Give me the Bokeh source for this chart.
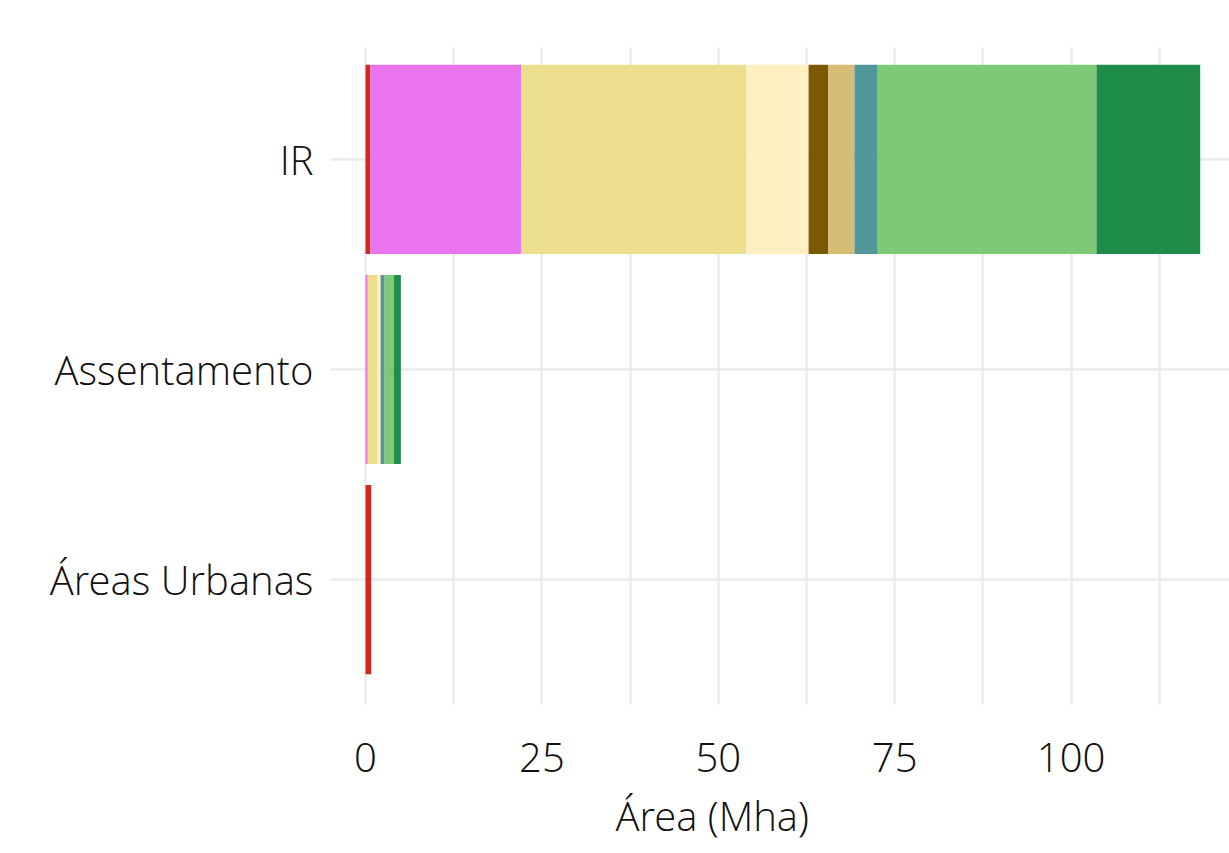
from bokeh.plotting import figure
from bokeh.models import ColumnDataSource, FixedTicker, Range1d, Title
from bokeh.embed import file_html
from bokeh.resources import INLINE

# ---- data ----
categories = ["Áreas Urbanas", "Assentamento", "IR"]
cat_pos = [1, 2, 3]
classes = ["Urbana", "Agricultura", "Pastagem", "Mosaico", "Silvicultura",
           "Campo", "Áreas úmidas", "Savana", "Floresta"]
colors = ["#d4271e", "#e974ed", "#edde8e", "#ffefc3", "#7a5900",
          "#d6bc74", "#519799", "#7dc975", "#1f8d49"]
# values (Mha) per class, order matches categories
urbana       = [0.8, 0.02, 0.7]
agricultura  = [0.0, 0.3, 21.4]
pastagem     = [0.0, 1.4, 31.9]
mosaico      = [0.0, 0.4, 8.8]
silvicultura = [0.0, 0.02, 2.8]
campo        = [0.0, 0.02, 3.7]
umidas       = [0.0, 0.55, 3.3]
savana       = [0.0, 1.3, 31.0]
floresta     = [0.0, 1.0, 14.7]
x_ticks = [0, 25, 50, 75, 100]
x_grid = [0, 12.5, 25, 37.5, 50, 62.5, 75, 87.5, 100, 112.5]
x_title = "Área (Mha)"

source = ColumnDataSource(dict(
    y=cat_pos,
    Urbana=urbana, Agricultura=agricultura, Pastagem=pastagem, Mosaico=mosaico,
    Silvicultura=silvicultura, Campo=campo, **{"Áreas úmidas": umidas},
    Savana=savana, Floresta=floresta,
))

FONT = "Open Sans Light"
TXT = "#111111"

p = figure(width=1229, height=853, output_backend="svg", toolbar_location=None,
           x_range=Range1d(-4.96, 122.45), y_range=Range1d(0.406, 3.532),
           min_border_left=330, min_border_top=47, min_border_right=0,
           min_border_bottom=148)
p.outline_line_color = None
p.background_fill_color = "white"
p.border_fill_color = "white"

p.hbar_stack(classes, y="y", height=0.9, fill_color=colors, line_color=None,
             source=source)

# grids
p.xgrid.ticker = FixedTicker(ticks=x_grid)
p.ygrid.ticker = FixedTicker(ticks=cat_pos)
for g in (p.xgrid, p.ygrid):
    g.grid_line_color = "#ebebeb"
    g.grid_line_width = 2.5
    g.level = "underlay"

# axes
xa = p.xaxis[0]
xa.ticker = FixedTicker(ticks=x_ticks)
ya = p.yaxis[0]
ya.ticker = FixedTicker(ticks=cat_pos)
ya.major_label_overrides = {pos: lab for pos, lab in zip(cat_pos, categories)}
for ax in (xa, ya):
    ax.axis_line_color = None
    ax.major_tick_line_color = None
    ax.minor_tick_line_color = None
    ax.major_tick_out = 0
    ax.major_tick_in = 0
    ax.major_label_text_font = FONT
    ax.major_label_text_font_size = "40px"
    ax.major_label_text_color = TXT
xa.major_label_standoff = 38
ya.major_label_standoff = 17

p.add_layout(Title(text=x_title, align="left", offset=285,
                   text_font=FONT, text_font_size="40px",
                   text_font_style="normal", text_color=TXT,
                   standoff=22), "below")

open("out.html", "w").write(file_html(p, INLINE))
